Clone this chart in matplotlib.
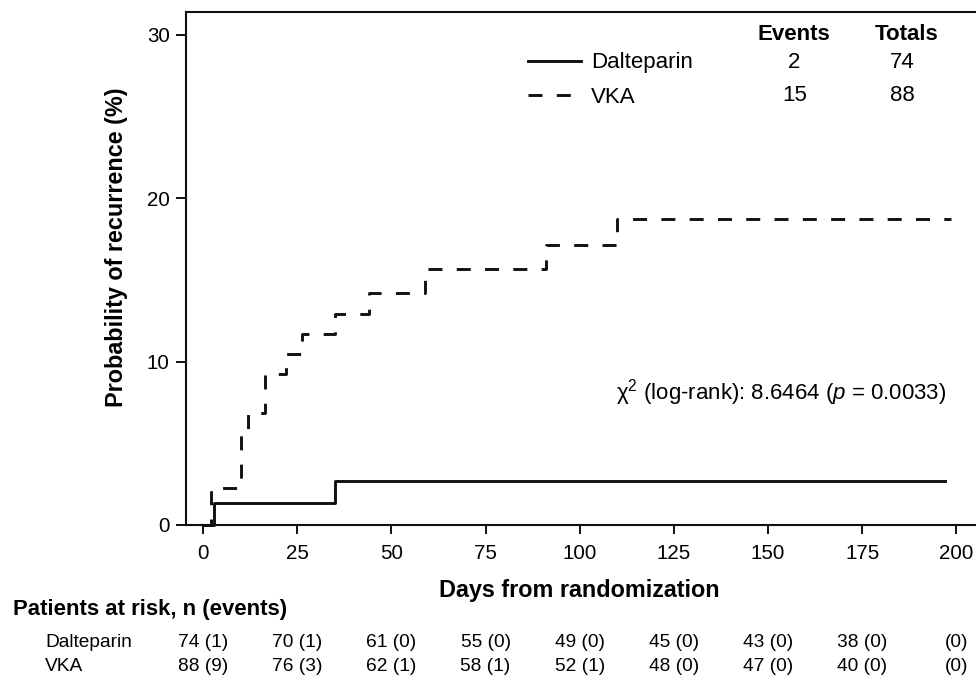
import matplotlib
matplotlib.use("Agg")
import matplotlib.pyplot as plt
from matplotlib.transforms import blended_transform_factory

plt.rcParams["font.family"] = ["Liberation Sans", "DejaVu Sans"]
plt.rcParams["mathtext.fontset"] = "custom"
plt.rcParams["mathtext.rm"] = "Liberation Sans"
plt.rcParams["mathtext.it"] = "Liberation Sans:italic"

# Kaplan-Meier step curves (days, cumulative % recurrence)
dalt_days = [0, 3, 35, 197]
dalt_pct = [0, 1.35, 2.70, 2.70]
vka_days = [0, 2, 10, 12, 16.5, 22, 26.3, 35, 44, 59, 91, 110, 198.5]
vka_pct = [0, 2.27, 5.68, 6.85, 9.25, 10.47, 11.68, 12.93, 14.2, 15.65, 17.1, 18.7, 18.7]

groups = ["Dalteparin", "VKA"]
events = [2, 15]
totals = [74, 88]

risk_days = [0, 25, 50, 75, 100, 125, 150, 175, 200]
risk_dalt = ["74 (1)", "70 (1)", "61 (0)", "55 (0)", "49 (0)", "45 (0)", "43 (0)", "38 (0)", "(0)"]
risk_vka = ["88 (9)", "76 (3)", "62 (1)", "58 (1)", "52 (1)", "48 (0)", "47 (0)", "40 (0)", "(0)"]

fs_tick = 14.8
fs_leg = 16
fs_lab = 16.8
fs_risk = 13.8

fig = plt.figure(figsize=(9.76, 6.78), dpi=100)
ax = fig.add_axes([0.1903, 0.2257, 0.8097, 0.7570])

l1, = ax.step(dalt_days, dalt_pct, where="post", color="#111111", lw=2.1,
              label=groups[0], clip_on=False)
l2, = ax.step(vka_days, vka_pct, where="post", color="#111111", lw=2.1,
              dashes=(4.8, 4.9), label=groups[1], clip_on=False)

ax.set_xlim(-4.6, 205.2)
ax.set_ylim(0, 31.4)
ax.set_xticks(risk_days)
ax.set_yticks([0, 10, 20, 30])
ax.tick_params(axis="x", direction="out", length=6.5, width=1.3, pad=7, labelsize=fs_tick)
ax.tick_params(axis="y", direction="out", length=7, width=1.3, pad=4.5, labelsize=fs_tick)
ax.spines["right"].set_visible(False)
for s in ["left", "top", "bottom"]:
    ax.spines[s].set_linewidth(1.5)
    ax.spines[s].set_color("#111111")

ax.set_xlabel("Days from randomization", fontsize=fs_lab, fontweight="bold")
ax.xaxis.set_label_coords(0.498, -0.105)
ax.set_ylabel("Probability of recurrence (%)", fontsize=fs_lab, fontweight="bold")
ax.yaxis.label.set_va("center")
ax.yaxis.set_label_coords(-0.088, 0.541)

# legend with events / totals columns
ax.legend(handles=[l1, l2], loc="center left", bbox_to_anchor=(0.4328, 0.867),
          frameon=False, fontsize=fs_leg, handlelength=2.4, handletextpad=0.45,
          labelspacing=0.6, borderpad=0, borderaxespad=0)
ax.text(0.770, 0.955, "Events", transform=ax.transAxes, ha="center", va="center",
        fontsize=fs_leg, fontweight="bold")
ax.text(0.912, 0.955, "Totals", transform=ax.transAxes, ha="center", va="center",
        fontsize=fs_leg, fontweight="bold")
for i, (e, t) in enumerate(zip(events, totals)):
    yy = [0.902, 0.837][i]
    ax.text(0.770, yy, str(e), transform=ax.transAxes, ha="center", va="center", fontsize=fs_leg)
    ax.text(0.907, yy, str(t), transform=ax.transAxes, ha="center", va="center", fontsize=fs_leg)

ax.text(197.2, 7.7, "\u03c7$^2$ (log-rank): 8.6464 ($p$ = 0.0033)", ha="right",
        va="baseline", fontsize=fs_leg)

# number at risk table
fig.text(0.0133, 0.0929, "Patients at risk, n (events)", fontsize=15.9, fontweight="bold",
         va="baseline")
trans = blended_transform_factory(ax.transData, fig.transFigure)
for name, row, yb in [(groups[0], risk_dalt, 0.0457), (groups[1], risk_vka, 0.0103)]:
    fig.text(0.0461, yb, name, fontsize=fs_risk, va="baseline")
    for d, txt in zip(risk_days, row):
        ax.text(d, yb, txt, transform=trans, ha="center", va="baseline", fontsize=fs_risk,
                clip_on=False)

fig.savefig("out.png", dpi=100)
